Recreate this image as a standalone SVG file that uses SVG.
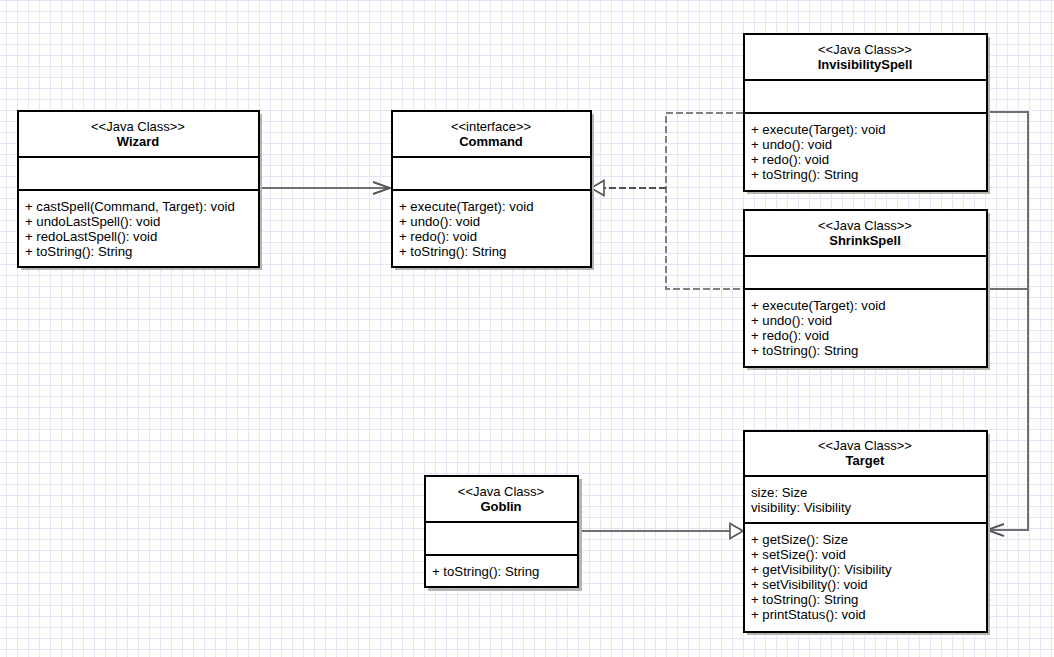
<svg xmlns="http://www.w3.org/2000/svg" width="1054" height="657" viewBox="0 0 1054 657">
<style>
.box{fill:#fff;stroke:#000;stroke-width:2}
.shadow{fill:#b4b4b4}
.sep{stroke:#000;stroke-width:2}
text{font-family:"Liberation Sans",Arial,sans-serif;font-size:13.2px;fill:#000}
.c{text-anchor:middle;font-size:13px}
.b{font-weight:bold}
.conn{fill:none;stroke:#707070;stroke-width:2}
.dash{fill:none;stroke:#808080;stroke-width:2;stroke-dasharray:7 3}
.dash2{fill:none;stroke:#505050;stroke-width:2;stroke-dasharray:7 3}
</style>
<defs>
<pattern id="grid" x="6" y="0" width="11" height="11" patternUnits="userSpaceOnUse">
<path d="M0.5,0 V11 M0,0.5 H11" stroke="#e6e4f6" stroke-width="1" fill="none"/>
</pattern>
<marker id="open" viewBox="-20 -10 22 20" refX="0" refY="0" markerWidth="22" markerHeight="20" markerUnits="userSpaceOnUse" orient="auto">
<path d="M-17,-6 L0,0 L-17,6" fill="none" stroke="#555" stroke-width="2"/>
</marker>
<marker id="tri" viewBox="-16 -10 18 20" refX="0" refY="0" markerWidth="18" markerHeight="20" markerUnits="userSpaceOnUse" orient="auto">
<path d="M0,0 L-13,-7.5 L-13,7.5 Z" fill="#fff" stroke="#555" stroke-width="1.6"/>
</marker>
</defs>
<rect width="1054" height="657" fill="#fff"/>
<rect width="1054" height="657" fill="url(#grid)"/>

<g id="connectors">
<path class="conn" d="M259,188 H390" marker-end="url(#open)"/>
<path class="dash" d="M743,113 H666 V289 H743"/>
<path class="dash2" d="M666,188 H591" marker-end="url(#tri)"/>
<path class="conn" d="M986,112 H1028 V530 H987" marker-end="url(#open)"/>
<path class="conn" d="M986,289 H1028"/>
<path class="conn" d="M578,531 H743" marker-end="url(#tri)"/>
</g>

<g id="wizard">
<rect class="shadow" x="21" y="114" width="241" height="156"/>
<rect class="box" x="18" y="111" width="241" height="156"/>
<line class="sep" x1="18" y1="157" x2="259" y2="157"/>
<line class="sep" x1="18" y1="190" x2="259" y2="190"/>
<text class="c" x="138" y="131">&lt;&lt;Java Class&gt;&gt;</text>
<text class="c b" x="138" y="146">Wizard</text>
<text x="25" y="211">+ castSpell(Command, Target): void</text>
<text x="25" y="226">+ undoLastSpell(): void</text>
<text x="25" y="241">+ redoLastSpell(): void</text>
<text x="25" y="256">+ toString(): String</text>
</g>

<g id="command">
<rect class="shadow" x="395" y="114" width="199" height="156"/>
<rect class="box" x="392" y="111" width="199" height="156"/>
<line class="sep" x1="392" y1="157" x2="591" y2="157"/>
<line class="sep" x1="392" y1="190" x2="591" y2="190"/>
<text class="c" x="491" y="131">&lt;&lt;interface&gt;&gt;</text>
<text class="c b" x="491" y="146">Command</text>
<text x="399" y="211">+ execute(Target): void</text>
<text x="399" y="226">+ undo(): void</text>
<text x="399" y="241">+ redo(): void</text>
<text x="399" y="256">+ toString(): String</text>
</g>

<g id="invisibilityspell">
<rect class="shadow" x="747" y="37" width="243" height="157"/>
<rect class="box" x="744" y="34" width="243" height="157"/>
<line class="sep" x1="744" y1="80" x2="987" y2="80"/>
<line class="sep" x1="744" y1="113" x2="987" y2="113"/>
<text class="c" x="865" y="54">&lt;&lt;Java Class&gt;&gt;</text>
<text class="c b" x="865" y="69">InvisibilitySpell</text>
<text x="751" y="134">+ execute(Target): void</text>
<text x="751" y="149">+ undo(): void</text>
<text x="751" y="164">+ redo(): void</text>
<text x="751" y="179">+ toString(): String</text>
</g>

<g id="shrinkspell">
<rect class="shadow" x="747" y="213" width="243" height="157"/>
<rect class="box" x="744" y="210" width="243" height="157"/>
<line class="sep" x1="744" y1="256" x2="987" y2="256"/>
<line class="sep" x1="744" y1="289" x2="987" y2="289"/>
<text class="c" x="865" y="230">&lt;&lt;Java Class&gt;&gt;</text>
<text class="c b" x="865" y="245">ShrinkSpell</text>
<text x="751" y="310">+ execute(Target): void</text>
<text x="751" y="325">+ undo(): void</text>
<text x="751" y="340">+ redo(): void</text>
<text x="751" y="355">+ toString(): String</text>
</g>

<g id="target">
<rect class="shadow" x="747" y="434" width="243" height="201"/>
<rect class="box" x="744" y="431" width="243" height="201"/>
<line class="sep" x1="744" y1="476" x2="987" y2="476"/>
<line class="sep" x1="744" y1="523" x2="987" y2="523"/>
<text class="c" x="865" y="450">&lt;&lt;Java Class&gt;&gt;</text>
<text class="c b" x="865" y="465">Target</text>
<text x="751" y="497">size: Size</text>
<text x="751" y="512">visibility: Visibility</text>
<text x="751" y="544">+ getSize(): Size</text>
<text x="751" y="559">+ setSize(): void</text>
<text x="751" y="574">+ getVisibility(): Visibility</text>
<text x="751" y="589">+ setVisibility(): void</text>
<text x="751" y="604">+ toString(): String</text>
<text x="751" y="619">+ printStatus(): void</text>
</g>

<g id="goblin">
<rect class="shadow" x="428" y="479" width="154" height="112"/>
<rect class="box" x="425" y="476" width="153" height="111"/>
<line class="sep" x1="425" y1="522" x2="578" y2="522"/>
<line class="sep" x1="425" y1="555" x2="578" y2="555"/>
<text class="c" x="501" y="496">&lt;&lt;Java Class&gt;</text>
<text class="c b" x="501" y="511">Goblin</text>
<text x="432" y="576">+ toString(): String</text>
</g>
</svg>
